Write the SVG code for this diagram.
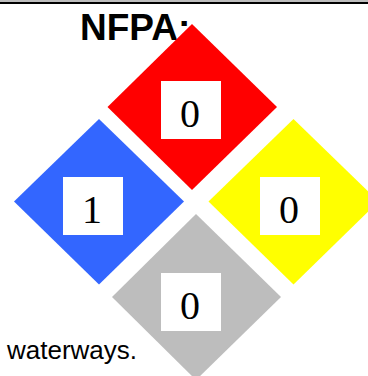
<svg xmlns="http://www.w3.org/2000/svg" width="368" height="376" viewBox="0 0 368 376">
<style>
.box{fill:#fff}
.num{font-family:"Liberation Serif","Times New Roman",serif;font-size:40px;fill:#000;text-anchor:middle}
.lbl{font-family:"Liberation Sans",Arial,sans-serif;fill:#000}
</style>
<rect width="368" height="376" fill="#fff"/>
<rect x="0" y="0" width="368" height="2" fill="#bdbdbd"/>
<rect x="0" y="2" width="368" height="2" fill="#000"/>
<text class="lbl" x="80" y="40" font-size="37" font-weight="bold">NFPA:</text>
<text class="lbl" x="7" y="359" font-size="26">waterways.</text>
<g id="health">
<polygon points="99,119 184,201.5 99,284.5 14,201.5" fill="#3366ff"/>
<rect class="box" x="63" y="177" width="60" height="58"/>
<text class="num" x="92" y="223">1</text>
</g>
<g id="flammability">
<polygon points="192,24 277,107 192,190 107.5,107" fill="#ff0000"/>
<rect class="box" x="161" y="81" width="60" height="58"/>
<text class="num" x="190" y="127">0</text>
</g>
<g id="instability">
<polygon points="293.5,119 378.5,201.5 293.5,284.5 208.5,201.5" fill="#ffff00"/>
<rect class="box" x="260" y="177" width="60" height="58"/>
<text class="num" x="289" y="223">0</text>
</g>
<g id="special">
<polygon points="196,214 281,297 196,380 112,297" fill="#bdbdbd"/>
<rect class="box" x="161" y="273" width="60" height="58"/>
<text class="num" x="190" y="319">0</text>
</g>
<g id="connectors"/>
</svg>
